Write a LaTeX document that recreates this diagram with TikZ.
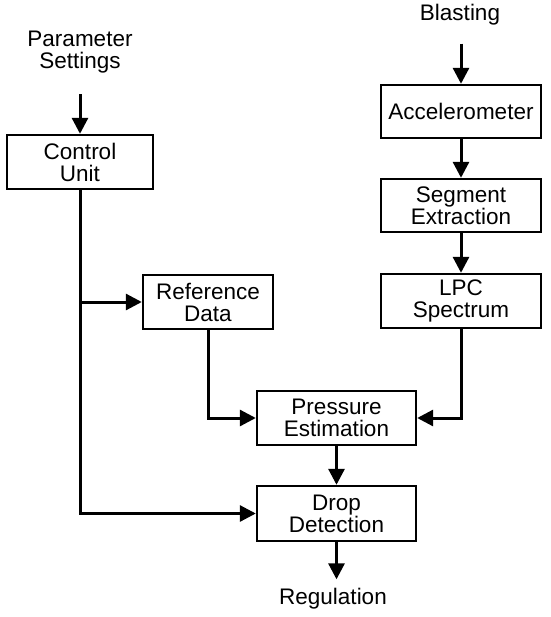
\documentclass[tikz,border=0pt]{standalone}
\usepackage{fontspec}
\setmainfont{Liberation Sans}
\usetikzlibrary{positioning, calc, arrows.meta}

\begin{document}
\begin{tikzpicture}[x=1pt, y=1pt]
				\tikzset{arrow/.style={-{Triangle[length=16pt, width=16pt]}, line width=3pt}}
				\tikzset{block/.style={draw, line width=2.4pt, inner sep=0pt, align=center, font=\fontsize{22.5}{22}\selectfont}}
				\tikzset{label/.style={inner sep=0pt, align=center, font=\fontsize{22.5}{22}\selectfont}}

				\useasboundingbox (0,0) rectangle (550,-617);

				% inputs and output
				\node (param) [label] at (80,-52) {Parameter\\Settings};
				\node (blast) [label] at (460,-15) {Blasting};
				\node (regul) [label] at (333,-599) {Regulation};

				% blocks
				\node (ctrl) [block, minimum width=146pt, minimum height=54pt] at (80,-162) {Control\\Unit};
				\node (accel) [block, minimum width=160pt, minimum height=53pt] at (461,-111.5) {Accelerometer};
				\node (seg) [block, minimum width=160pt, minimum height=53pt] at (461,-205.5) {Segment\\Extraction};
				\node (lpc) [block, minimum width=160pt, minimum height=54pt] at (461,-301) {LPC\\Spectrum};
				\node (ref) [block, minimum width=130pt, minimum height=54pt] at (208,-302) {Reference\\Data};
				\node (press) [block, minimum width=159pt, minimum height=54pt] at (336.5,-418) {Pressure\\Estimation};
				\node (drop) [block, minimum width=159pt, minimum height=55pt] at (336.5,-513.5) {Drop\\Detection};

				% signal chain
				\draw[arrow, shorten <= 21pt] (param.south) -- (ctrl.north);
				\draw[arrow, shorten <= 18pt] (accel.north |- blast.south) -- (accel.north);
				\draw[arrow] (accel) -- (seg);
				\draw[arrow] (seg) -- (lpc);
				\draw[arrow] (lpc.south) |- (press.east);
				\draw[arrow] (ref.south) |- (press.west);
				\draw[arrow] (press) -- (drop);
				\draw[arrow, shorten >= 9pt] (drop.south) -- (drop.south |- regul.north);

				% control unit branches
				\draw[arrow] (ctrl.south) |- (drop.west);
				\draw[arrow] (ctrl.south |- ref.west) -- (ref.west);
			\end{tikzpicture}
\end{document}
